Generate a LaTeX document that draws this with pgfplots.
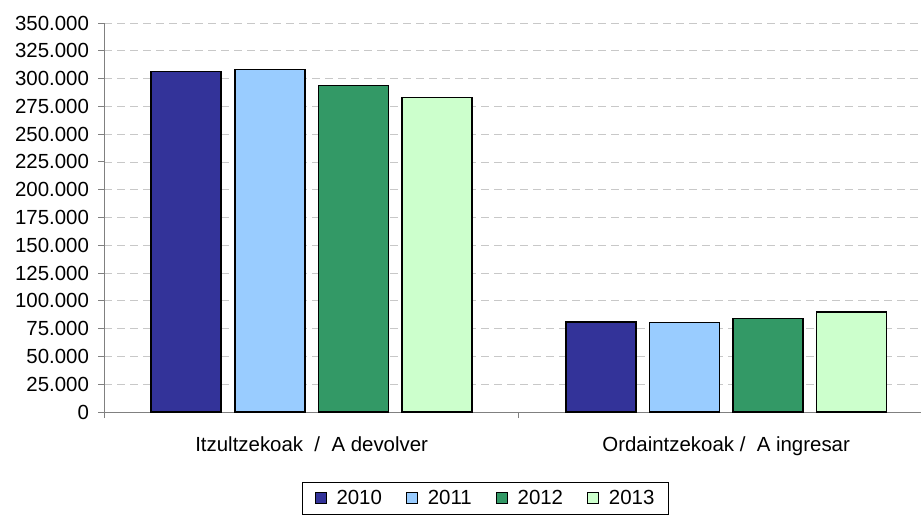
\documentclass[border=0pt]{standalone}
\usepackage{fontspec}
\setmainfont{Liberation Sans}
\usepackage{pgfplots}
\pgfplotsset{compat=1.18}

\definecolor{c2010}{HTML}{333399}
\definecolor{c2011}{HTML}{99CCFF}
\definecolor{c2012}{HTML}{339966}
\definecolor{c2013}{HTML}{CCFFCC}
\definecolor{gridc}{HTML}{C8C8C8}
\definecolor{axc}{HTML}{808080}

\newcommand{\chartfont}{\fontsize{20.5}{23}\selectfont}

\begin{document}
\begin{tikzpicture}
\begin{axis}[
  scale only axis, width=816.6bp, height=389bp,
  xmin=-0.5, xmax=1.47, ymin=0, ymax=350000,
  axis lines*=left,
  axis line style={axc, line width=0.9bp},
  ytick distance=25000, scaled y ticks=false,
  ymajorgrids, grid style={gridc, dash pattern=on 8bp off 5bp, line width=0.8bp},
  tick align=outside, major tick length=6bp,
  tick style={axc, line width=0.9bp},
  /pgf/number format/assume math mode=true,
  /pgf/number format/.cd, fixed, precision=0, 1000 sep={.}, /pgfplots/.cd,
  yticklabel style={font=\chartfont, xshift=-6bp},
  xtick={-0.5,0.5}, xticklabels={},
  extra x ticks={0,1},
  extra x tick labels={Itzultzekoak\ \ /\ \ A devolver, Ordaintzekoak /\ \ A ingresar},
  extra x tick style={major tick length=0pt, grid=none,
    xticklabel style={font=\chartfont, yshift=-21bp}},
  ybar, bar width=0.169,
  legend columns=4,
  legend style={at={(0.4667,-0.18)}, anchor=north, draw=black, line width=0.8bp,
    font=\chartfont, inner xsep=12bp, inner ysep=6bp,
    /tikz/every even column/.append style={column sep=22bp},
    /tikz/every odd column/.append style={column sep=8bp}},
  legend image code/.code={\draw[#1, line width=0.9bp] (0bp,-5.5bp) rectangle (11bp,5.5bp);},
]
\addplot[fill=c2010, draw=black, line width=1.6bp, bar shift=-0.3025] coordinates {(0,306200) (1,81000)};
\addplot[fill=c2011, draw=black, line width=1.6bp, bar shift=-0.1008] coordinates {(0,308100) (1,80700)};
\addplot[fill=c2012, draw=black, line width=1.6bp, bar shift=0.1008] coordinates {(0,293700) (1,84300)};
\addplot[fill=c2013, draw=black, line width=1.6bp, bar shift=0.3025] coordinates {(0,282900) (1,90000)};
\legend{2010,2011,2012,2013}
\coordinate (bl) at (rel axis cs:0,0);
\end{axis}
\pgfresetboundingbox
\path (bl) ++(-104.4bp,-105bp) rectangle ++(921bp,517bp);
\end{tikzpicture}
\end{document}
